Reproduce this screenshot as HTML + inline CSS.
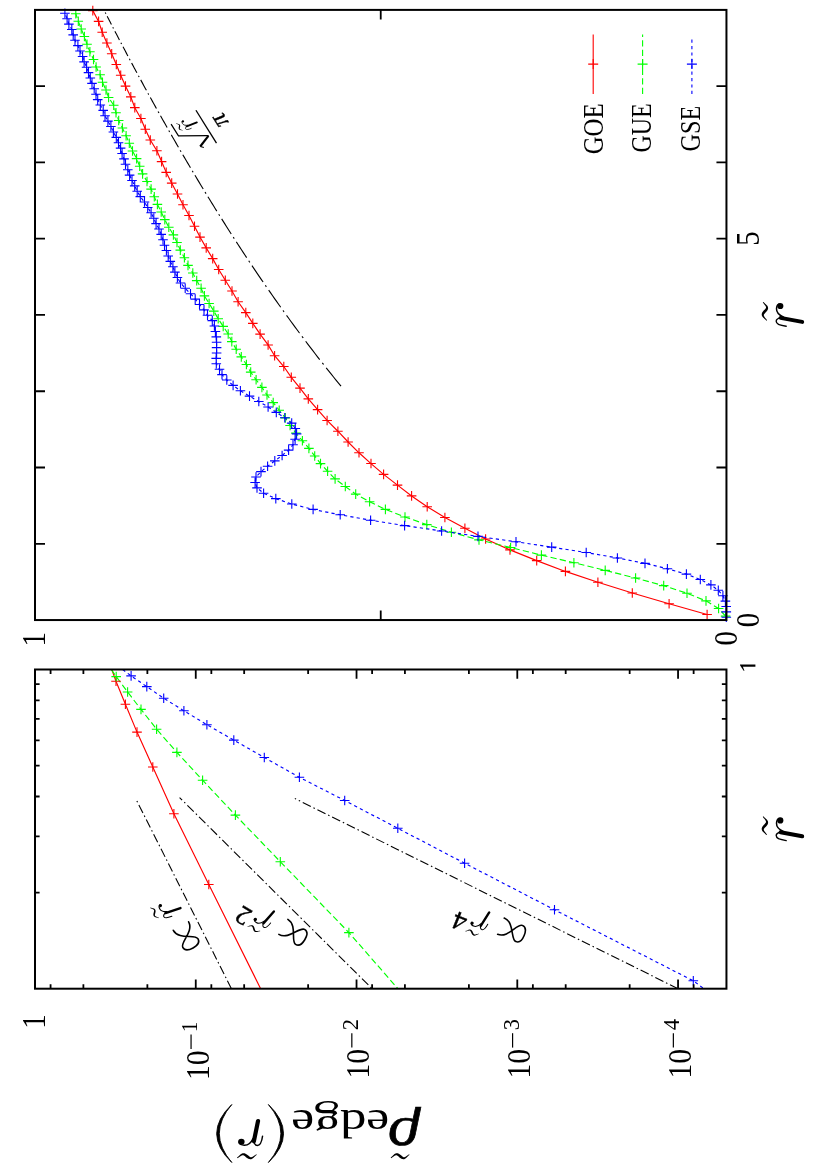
<!DOCTYPE html>
<html><head><meta charset="utf-8"><title>chart</title>
<style>html,body{margin:0;padding:0;background:#fff;overflow:hidden}svg{display:block;position:absolute;left:0;top:0;will-change:transform}</style></head>
<body><svg width="827" height="1170" viewBox="0 0 827 1170">
<rect x="0" y="0" width="827" height="1170" fill="#fff"/>
<path d="M105.19 12.38L105.31 12.61L105.43 12.84L105.54 13.07L105.66 13.29L105.78 13.52L105.87 13.71M107.22 16.34L107.93 17.72L108.63 19.09L109.34 20.46L110.05 21.84L110.75 23.21L111.44 24.54M112.82 27.21L112.94 27.44L113.06 27.67L113.18 27.9L113.3 28.13L113.41 28.36L113.51 28.55M114.9 31.22L115.65 32.67L116.4 34.12L117.16 35.56L117.92 37.01L118.67 38.46L119.43 39.91L119.47 39.99M120.89 42.7L121.01 42.92L121.13 43.15L121.25 43.38L121.37 43.61L121.49 43.84L121.61 44.07M123.03 46.78L123.83 48.3L124.64 49.83L125.44 51.35L126.25 52.88L127.06 54.4L127.87 55.93L127.95 56.08M129.43 58.86L129.55 59.09L129.67 59.32L129.79 59.55L129.91 59.78L130.04 60.01L130.16 60.24M131.62 62.98L132.5 64.62L133.38 66.26L134.25 67.9L135.13 69.54L136.02 71.18L136.9 72.82L136.92 72.86M138.44 75.68L138.56 75.91L138.69 76.14L138.81 76.37L138.94 76.6L139.06 76.83L139.18 77.05M140.71 79.88L141.66 81.63L142.62 83.38L143.57 85.14L144.53 86.89L145.49 88.65L146.42 90.36M147.99 93.22L148.12 93.45L148.24 93.68L148.37 93.91L148.5 94.14L148.62 94.37L148.75 94.6L148.77 94.63M150.32 97.46L151.33 99.29L152.34 101.12L153.36 102.95L154.37 104.78L155.39 106.61L156.41 108.44L156.49 108.59M158.09 111.45L158.22 111.68L158.34 111.91L158.47 112.14L158.6 112.37L158.73 112.6L158.86 112.82L158.9 112.9M160.52 115.8L161.61 117.74L162.71 119.69L163.81 121.63L164.9 123.58L166.01 125.52L167.11 127.47L167.15 127.54M168.82 130.48L168.95 130.71L169.08 130.94L169.21 131.17L169.34 131.4L169.47 131.62L169.6 131.85L169.65 131.93M171.33 134.87L172.5 136.93L173.69 138.98L174.87 141.04L176.06 143.1L177.25 145.16L178.44 147.22L178.46 147.26M180.19 150.23L180.32 150.46L180.45 150.69L180.59 150.92L180.72 151.15L180.85 151.38L180.99 151.61L181.05 151.72M182.79 154.7L184.06 156.87L185.33 159.04L186.61 161.22L187.89 163.39L189.17 165.56L190.46 167.74M192.25 170.75L192.38 170.98L192.52 171.21L192.66 171.44L192.79 171.67L192.93 171.89L193.06 172.12L193.16 172.28M194.95 175.29L196.32 177.58L197.69 179.86L199.07 182.15L200.45 184.44L201.83 186.73L203.22 189.02M205.07 192.07L205.24 192.33L205.4 192.6L205.56 192.87L205.73 193.14L205.89 193.4L206.03 193.63M207.89 196.68L209.37 199.08L210.84 201.49L212.33 203.89L213.81 206.29L215.3 208.69L216.8 211.1M218.73 214.19L218.89 214.45L219.06 214.72L219.23 214.99L219.39 215.25L219.56 215.52L219.7 215.75M221.67 218.88L223.25 221.39L224.84 223.91L226.44 226.43L228.04 228.94L229.65 231.46L231.24 233.94M233.27 237.1L233.44 237.37L233.61 237.64L233.79 237.91L233.96 238.17L234.13 238.44L234.28 238.67M236.32 241.83L238.03 244.46L239.75 247.1L241.47 249.73L243.19 252.36L244.92 254.99L246.64 257.58M248.76 260.79L248.94 261.05L249.12 261.32L249.29 261.59L249.47 261.85L249.65 262.12L249.83 262.39M251.97 265.59L253.81 268.34L255.66 271.08L257.51 273.83L259.38 276.57L261.25 279.32L263.1 282.03M265.33 285.27L265.51 285.54L265.69 285.8L265.88 286.07L266.06 286.34L266.25 286.6L266.43 286.87M268.67 290.11L270.63 292.93L272.61 295.76L274.58 298.58L276.57 301.4L278.57 304.22L280.57 307.04L280.68 307.2M283 310.44L283.19 310.7L283.38 310.97L283.57 311.24L283.76 311.5L283.95 311.77L284.15 312.04L284.17 312.08M286.53 315.36L288.66 318.29L290.79 321.23L292.94 324.17L295.1 327.1L297.26 330.04L299.44 332.97L299.5 333.05M301.97 336.37L302.17 336.64L302.37 336.9L302.57 337.17L302.77 337.44L302.97 337.7L303.17 337.97L303.2 338.01M305.67 341.29L307.98 344.34L310.3 347.39L312.64 350.44L314.98 353.49L317.34 356.54L319.69 359.55M322.29 362.87L322.5 363.14L322.71 363.41L322.92 363.67L323.13 363.94L323.34 364.21L323.55 364.47L323.58 364.51M326.2 367.83L328.63 370.88L331.07 373.93L333.53 376.98L336.01 380.03L338.49 383.08L341 386.13L341.03 386.17" fill="none" stroke="#000" stroke-width="1.1"/>
<polyline points="707.1,614.56 669.1,603.77 632.3,592.99 597.9,582.2 565.4,571.42 536.7,560.63 510,549.85 485.6,539.06 464.9,528.28 444.9,517.49 427.2,506.71 411.6,495.92 397.5,485.14 383.6,474.36 371,463.57 359,452.79 348.1,442 337.9,431.22 327.1,420.43 317.6,409.65 308.3,398.86 300,388.08 291.3,377.29 283.8,366.51 274.6,355.72 268.1,344.94 260.1,334.15 252.8,323.37 245.8,312.58 238.1,301.8 232,291.01 225.3,280.23 218.7,269.44 212.7,258.66 206.2,247.87 200,237.09 194.5,226.31 189,215.52 183,204.74 177.5,193.95 171.7,183.17 166.2,172.38 161.6,161.6 156.9,150.81 150.3,140.03 145.3,129.24 140.9,118.46 134.8,107.67 130.8,96.89 125.5,86.1 120.7,75.32 116.3,64.53 111.7,53.75 106.9,42.96 102.2,32.18 98.6,21.39 92.8,10.61" fill="none" stroke="#ff0000" stroke-width="1.15"/>
<path d="M702.3 614.56h9.6M707.1 609.76v9.6M664.3 603.77h9.6M669.1 598.97v9.6M627.5 592.99h9.6M632.3 588.19v9.6M593.1 582.2h9.6M597.9 577.4v9.6M560.6 571.42h9.6M565.4 566.62v9.6M531.9 560.63h9.6M536.7 555.83v9.6M505.2 549.85h9.6M510 545.05v9.6M480.8 539.06h9.6M485.6 534.26v9.6M460.1 528.28h9.6M464.9 523.48v9.6M440.1 517.49h9.6M444.9 512.69v9.6M422.4 506.71h9.6M427.2 501.91v9.6M406.8 495.92h9.6M411.6 491.12v9.6M392.7 485.14h9.6M397.5 480.34v9.6M378.8 474.36h9.6M383.6 469.56v9.6M366.2 463.57h9.6M371 458.77v9.6M354.2 452.79h9.6M359 447.99v9.6M343.3 442h9.6M348.1 437.2v9.6M333.1 431.22h9.6M337.9 426.42v9.6M322.3 420.43h9.6M327.1 415.63v9.6M312.8 409.65h9.6M317.6 404.85v9.6M303.5 398.86h9.6M308.3 394.06v9.6M295.2 388.08h9.6M300 383.28v9.6M286.5 377.29h9.6M291.3 372.49v9.6M279 366.51h9.6M283.8 361.71v9.6M269.8 355.72h9.6M274.6 350.92v9.6M263.3 344.94h9.6M268.1 340.14v9.6M255.3 334.15h9.6M260.1 329.35v9.6M248 323.37h9.6M252.8 318.57v9.6M241 312.58h9.6M245.8 307.78v9.6M233.3 301.8h9.6M238.1 297v9.6M227.2 291.01h9.6M232 286.21v9.6M220.5 280.23h9.6M225.3 275.43v9.6M213.9 269.44h9.6M218.7 264.64v9.6M207.9 258.66h9.6M212.7 253.86v9.6M201.4 247.87h9.6M206.2 243.07v9.6M195.2 237.09h9.6M200 232.29v9.6M189.7 226.31h9.6M194.5 221.51v9.6M184.2 215.52h9.6M189 210.72v9.6M178.2 204.74h9.6M183 199.94v9.6M172.7 193.95h9.6M177.5 189.15v9.6M166.9 183.17h9.6M171.7 178.37v9.6M161.4 172.38h9.6M166.2 167.58v9.6M156.8 161.6h9.6M161.6 156.8v9.6M152.1 150.81h9.6M156.9 146.01v9.6M145.5 140.03h9.6M150.3 135.23v9.6M140.5 129.24h9.6M145.3 124.44v9.6M136.1 118.46h9.6M140.9 113.66v9.6M130 107.67h9.6M134.8 102.87v9.6M126 96.89h9.6M130.8 92.09v9.6M120.7 86.1h9.6M125.5 81.3v9.6M115.9 75.32h9.6M120.7 70.52v9.6M111.5 64.53h9.6M116.3 59.73v9.6M106.9 53.75h9.6M111.7 48.95v9.6M102.1 42.96h9.6M106.9 38.16v9.6M97.4 32.18h9.6M102.2 27.38v9.6M93.8 21.39h9.6M98.6 16.59v9.6M88 10.61h9.6M92.8 5.81v9.6" stroke="#ff0000" stroke-width="1.1" fill="none"/>
<polyline points="725.6,616.14 718.6,608.51 706,600.88 687,593.26 663.7,585.63 635.6,578.01 605.2,570.38 573.9,562.75 541.4,555.13 510.6,547.5 479,539.88 451.4,532.25 426.8,524.62 405,517 385.4,509.37 369.6,501.75 355.7,494.12 345.3,486.5 335.1,478.87 327.6,471.24 320.5,463.62 314.7,455.99 308.9,448.37 302.4,440.74 295.9,433.11 290.1,425.49 285.3,417.86 279.2,410.24 273.2,402.61 267,394.98 261.9,387.36 256.1,379.73 250.7,372.11 246.4,364.48 241.3,356.85 236.2,349.23 231.8,341.6 228.2,333.98 223.2,326.35 218.2,318.72 213.8,311.1 209.1,303.47 204.4,295.85 201.1,288.22 196.7,280.59 192.8,272.97 188,265.34 184.4,257.72 180.3,250.09 177,242.46 173.4,234.84 168.8,227.21 164.8,219.59 161.2,211.96 157.4,204.33 154.3,196.71 151.1,189.08 147,181.46 142.6,173.83 139.7,166.2 136.6,158.58 132.5,150.95 129.3,143.32 126.1,135.7 122.4,128.07 118.7,120.45 116,112.82 113.7,105.2 108.6,97.57 106,89.94 102.5,82.32 100.1,74.69 96.1,67.07 93.5,59.44 89.9,51.81 87,44.19 84.4,36.56 81.2,28.94 78.3,21.31 75.8,13.68" fill="none" stroke="#00ff00" stroke-width="1.15" stroke-dasharray="6.3 3.2"/>
<path d="M720.8 616.14h9.6M725.6 611.34v9.6M713.8 608.51h9.6M718.6 603.71v9.6M701.2 600.88h9.6M706 596.09v9.6M682.2 593.26h9.6M687 588.46v9.6M658.9 585.63h9.6M663.7 580.83v9.6M630.8 578.01h9.6M635.6 573.21v9.6M600.4 570.38h9.6M605.2 565.58v9.6M569.1 562.75h9.6M573.9 557.96v9.6M536.6 555.13h9.6M541.4 550.33v9.6M505.8 547.5h9.6M510.6 542.7v9.6M474.2 539.88h9.6M479 535.08v9.6M446.6 532.25h9.6M451.4 527.45v9.6M422 524.62h9.6M426.8 519.83v9.6M400.2 517h9.6M405 512.2v9.6M380.6 509.37h9.6M385.4 504.57v9.6M364.8 501.75h9.6M369.6 496.95v9.6M350.9 494.12h9.6M355.7 489.32v9.6M340.5 486.5h9.6M345.3 481.69v9.6M330.3 478.87h9.6M335.1 474.07v9.6M322.8 471.24h9.6M327.6 466.44v9.6M315.7 463.62h9.6M320.5 458.82v9.6M309.9 455.99h9.6M314.7 451.19v9.6M304.1 448.37h9.6M308.9 443.56v9.6M297.6 440.74h9.6M302.4 435.94v9.6M291.1 433.11h9.6M295.9 428.31v9.6M285.3 425.49h9.6M290.1 420.69v9.6M280.5 417.86h9.6M285.3 413.06v9.6M274.4 410.24h9.6M279.2 405.44v9.6M268.4 402.61h9.6M273.2 397.81v9.6M262.2 394.98h9.6M267 390.18v9.6M257.1 387.36h9.6M261.9 382.56v9.6M251.3 379.73h9.6M256.1 374.93v9.6M245.9 372.11h9.6M250.7 367.31v9.6M241.6 364.48h9.6M246.4 359.68v9.6M236.5 356.85h9.6M241.3 352.05v9.6M231.4 349.23h9.6M236.2 344.43v9.6M227 341.6h9.6M231.8 336.8v9.6M223.4 333.98h9.6M228.2 329.18v9.6M218.4 326.35h9.6M223.2 321.55v9.6M213.4 318.72h9.6M218.2 313.92v9.6M209 311.1h9.6M213.8 306.3v9.6M204.3 303.47h9.6M209.1 298.67v9.6M199.6 295.85h9.6M204.4 291.05v9.6M196.3 288.22h9.6M201.1 283.42v9.6M191.9 280.59h9.6M196.7 275.79v9.6M188 272.97h9.6M192.8 268.17v9.6M183.2 265.34h9.6M188 260.54v9.6M179.6 257.72h9.6M184.4 252.92v9.6M175.5 250.09h9.6M180.3 245.29v9.6M172.2 242.46h9.6M177 237.66v9.6M168.6 234.84h9.6M173.4 230.04v9.6M164 227.21h9.6M168.8 222.41v9.6M160 219.59h9.6M164.8 214.79v9.6M156.4 211.96h9.6M161.2 207.16v9.6M152.6 204.33h9.6M157.4 199.53v9.6M149.5 196.71h9.6M154.3 191.91v9.6M146.3 189.08h9.6M151.1 184.28v9.6M142.2 181.46h9.6M147 176.66v9.6M137.8 173.83h9.6M142.6 169.03v9.6M134.9 166.2h9.6M139.7 161.4v9.6M131.8 158.58h9.6M136.6 153.78v9.6M127.7 150.95h9.6M132.5 146.15v9.6M124.5 143.32h9.6M129.3 138.52v9.6M121.3 135.7h9.6M126.1 130.9v9.6M117.6 128.07h9.6M122.4 123.27v9.6M113.9 120.45h9.6M118.7 115.65v9.6M111.2 112.82h9.6M116 108.02v9.6M108.9 105.2h9.6M113.7 100.4v9.6M103.8 97.57h9.6M108.6 92.77v9.6M101.2 89.94h9.6M106 85.14v9.6M97.7 82.32h9.6M102.5 77.52v9.6M95.3 74.69h9.6M100.1 69.89v9.6M91.3 67.07h9.6M96.1 62.27v9.6M88.7 59.44h9.6M93.5 54.64v9.6M85.1 51.81h9.6M89.9 47.01v9.6M82.2 44.19h9.6M87 39.39v9.6M79.6 36.56h9.6M84.4 31.76v9.6M76.4 28.94h9.6M81.2 24.14v9.6M73.5 21.31h9.6M78.3 16.51v9.6M71 13.68h9.6M75.8 8.88v9.6" stroke="#00ff00" stroke-width="1.1" fill="none"/>
<polyline points="726.3,617.25 726.3,611.86 726.2,606.47 725.4,601.08 722.9,595.68 718.3,590.29 710.9,584.9 700.3,579.51 686.4,574.11 667.4,568.72 645,563.33 617.4,557.94 586.2,552.55 551.7,547.15 516,541.76 478,536.37 441.6,530.98 404.6,525.58 370.6,520.19 340.2,514.8 313.1,509.41 291.8,504.01 275.8,498.62 263.6,493.23 257,487.84 255.1,482.44 256,477.05 261,471.66 267.6,466.27 274.8,460.87 282.1,455.48 288.6,450.09 293,444.7 295.1,439.3 296.6,433.91 295.3,428.52 291.7,423.13 284.8,417.74 276.3,412.34 268.1,406.95 258.8,401.56 249.5,396.17 240.4,390.77 233.1,385.38 226.8,379.99 222,374.6 219.5,369.2 216.3,363.81 216.2,358.42 216.6,353.03 216.6,347.63 216.6,342.24 216.3,336.85 215.4,331.46 214.4,326.06 212.3,320.67 207.5,315.28 204,309.89 199.5,304.49 195.2,299.1 190.5,293.71 185.2,288.32 180.5,282.93 177.4,277.53 174.9,272.14 172.9,266.75 170.3,261.36 168.2,255.96 166.4,250.57 164.5,245.18 163,239.79 161.2,234.39 159,229 156.1,223.61 153.8,218.22 151.1,212.82 147.7,207.43 144.5,202.04 140.3,196.65 137.2,191.25 134.7,185.86 132,180.47 129.6,175.08 127.8,169.68 125.5,164.29 124,158.9 122.1,153.51 120.6,148.12 118.5,142.72 116.3,137.33 113.4,131.94 110.9,126.55 107.9,121.15 105,115.76 103.2,110.37 100.3,104.98 97.7,99.58 96,94.19 94.2,88.8 92,83.41 90.3,78.01 88.5,72.62 86.6,67.23 84.1,61.84 82.6,56.44 80,51.05 77.9,45.66 75,40.27 73.2,34.88 71.8,29.48 68.9,24.09 67.1,18.7 64.9,13.31" fill="none" stroke="#0000ff" stroke-width="1.15" stroke-dasharray="3.2 3.2"/>
<path d="M721.5 617.25h9.6M726.3 612.45v9.6M721.5 611.86h9.6M726.3 607.06v9.6M721.4 606.47h9.6M726.2 601.67v9.6M720.6 601.08h9.6M725.4 596.28v9.6M718.1 595.68h9.6M722.9 590.88v9.6M713.5 590.29h9.6M718.3 585.49v9.6M706.1 584.9h9.6M710.9 580.1v9.6M695.5 579.51h9.6M700.3 574.71v9.6M681.6 574.11h9.6M686.4 569.31v9.6M662.6 568.72h9.6M667.4 563.92v9.6M640.2 563.33h9.6M645 558.53v9.6M612.6 557.94h9.6M617.4 553.14v9.6M581.4 552.55h9.6M586.2 547.75v9.6M546.9 547.15h9.6M551.7 542.35v9.6M511.2 541.76h9.6M516 536.96v9.6M473.2 536.37h9.6M478 531.57v9.6M436.8 530.98h9.6M441.6 526.18v9.6M399.8 525.58h9.6M404.6 520.78v9.6M365.8 520.19h9.6M370.6 515.39v9.6M335.4 514.8h9.6M340.2 510v9.6M308.3 509.41h9.6M313.1 504.61v9.6M287 504.01h9.6M291.8 499.21v9.6M271 498.62h9.6M275.8 493.82v9.6M258.8 493.23h9.6M263.6 488.43v9.6M252.2 487.84h9.6M257 483.04v9.6M250.3 482.44h9.6M255.1 477.64v9.6M251.2 477.05h9.6M256 472.25v9.6M256.2 471.66h9.6M261 466.86v9.6M262.8 466.27h9.6M267.6 461.47v9.6M270 460.87h9.6M274.8 456.07v9.6M277.3 455.48h9.6M282.1 450.68v9.6M283.8 450.09h9.6M288.6 445.29v9.6M288.2 444.7h9.6M293 439.9v9.6M290.3 439.3h9.6M295.1 434.5v9.6M291.8 433.91h9.6M296.6 429.11v9.6M290.5 428.52h9.6M295.3 423.72v9.6M286.9 423.13h9.6M291.7 418.33v9.6M280 417.74h9.6M284.8 412.94v9.6M271.5 412.34h9.6M276.3 407.54v9.6M263.3 406.95h9.6M268.1 402.15v9.6M254 401.56h9.6M258.8 396.76v9.6M244.7 396.17h9.6M249.5 391.37v9.6M235.6 390.77h9.6M240.4 385.97v9.6M228.3 385.38h9.6M233.1 380.58v9.6M222 379.99h9.6M226.8 375.19v9.6M217.2 374.6h9.6M222 369.8v9.6M214.7 369.2h9.6M219.5 364.4v9.6M211.5 363.81h9.6M216.3 359.01v9.6M211.4 358.42h9.6M216.2 353.62v9.6M211.8 353.03h9.6M216.6 348.23v9.6M211.8 347.63h9.6M216.6 342.83v9.6M211.8 342.24h9.6M216.6 337.44v9.6M211.5 336.85h9.6M216.3 332.05v9.6M210.6 331.46h9.6M215.4 326.66v9.6M209.6 326.06h9.6M214.4 321.26v9.6M207.5 320.67h9.6M212.3 315.87v9.6M202.7 315.28h9.6M207.5 310.48v9.6M199.2 309.89h9.6M204 305.09v9.6M194.7 304.49h9.6M199.5 299.69v9.6M190.4 299.1h9.6M195.2 294.3v9.6M185.7 293.71h9.6M190.5 288.91v9.6M180.4 288.32h9.6M185.2 283.52v9.6M175.7 282.93h9.6M180.5 278.13v9.6M172.6 277.53h9.6M177.4 272.73v9.6M170.1 272.14h9.6M174.9 267.34v9.6M168.1 266.75h9.6M172.9 261.95v9.6M165.5 261.36h9.6M170.3 256.56v9.6M163.4 255.96h9.6M168.2 251.16v9.6M161.6 250.57h9.6M166.4 245.77v9.6M159.7 245.18h9.6M164.5 240.38v9.6M158.2 239.79h9.6M163 234.99v9.6M156.4 234.39h9.6M161.2 229.59v9.6M154.2 229h9.6M159 224.2v9.6M151.3 223.61h9.6M156.1 218.81v9.6M149 218.22h9.6M153.8 213.42v9.6M146.3 212.82h9.6M151.1 208.02v9.6M142.9 207.43h9.6M147.7 202.63v9.6M139.7 202.04h9.6M144.5 197.24v9.6M135.5 196.65h9.6M140.3 191.85v9.6M132.4 191.25h9.6M137.2 186.45v9.6M129.9 185.86h9.6M134.7 181.06v9.6M127.2 180.47h9.6M132 175.67v9.6M124.8 175.08h9.6M129.6 170.28v9.6M123 169.68h9.6M127.8 164.88v9.6M120.7 164.29h9.6M125.5 159.49v9.6M119.2 158.9h9.6M124 154.1v9.6M117.3 153.51h9.6M122.1 148.71v9.6M115.8 148.12h9.6M120.6 143.32v9.6M113.7 142.72h9.6M118.5 137.92v9.6M111.5 137.33h9.6M116.3 132.53v9.6M108.6 131.94h9.6M113.4 127.14v9.6M106.1 126.55h9.6M110.9 121.75v9.6M103.1 121.15h9.6M107.9 116.35v9.6M100.2 115.76h9.6M105 110.96v9.6M98.4 110.37h9.6M103.2 105.57v9.6M95.5 104.98h9.6M100.3 100.18v9.6M92.9 99.58h9.6M97.7 94.78v9.6M91.2 94.19h9.6M96 89.39v9.6M89.4 88.8h9.6M94.2 84v9.6M87.2 83.41h9.6M92 78.61v9.6M85.5 78.01h9.6M90.3 73.21v9.6M83.7 72.62h9.6M88.5 67.82v9.6M81.8 67.23h9.6M86.6 62.43v9.6M79.3 61.84h9.6M84.1 57.04v9.6M77.8 56.44h9.6M82.6 51.64v9.6M75.2 51.05h9.6M80 46.25v9.6M73.1 45.66h9.6M77.9 40.86v9.6M70.2 40.27h9.6M75 35.47v9.6M68.4 34.88h9.6M73.2 30.08v9.6M67 29.48h9.6M71.8 24.68v9.6M64.1 24.09h9.6M68.9 19.29v9.6M62.3 18.7h9.6M67.1 13.9v9.6M60.1 13.31h9.6M64.9 8.51v9.6" stroke="#0000ff" stroke-width="1.1" fill="none"/>
<rect x="35.0" y="9.9" width="691.45" height="610.15" fill="none" stroke="#000" stroke-width="2.0"/>
<path d="M35 543.78h10M726.45 543.78h-10M35 467.51h10M726.45 467.51h-10M35 391.24h10M726.45 391.24h-10M35 314.97h10M726.45 314.97h-10M35 238.71h10M726.45 238.71h-10M35 162.44h10M726.45 162.44h-10M35 86.17h10M726.45 86.17h-10M380.73 9.9v9.5M380.73 620.05v-9.5" stroke="#000" stroke-width="1.8" fill="none"/>
<clipPath id="c2"><rect x="35.0" y="669.5" width="691.45" height="319.20000000000005"/></clipPath>
<g clip-path="url(#c2)">
<line x1="231.43" y1="988.7" x2="136.77" y2="800.74" stroke="#000" stroke-width="1.1" stroke-dasharray="9 2.95 1.5 2.95" stroke-dashoffset="0"/>
<line x1="372.11" y1="988.7" x2="179.58" y2="797.57" stroke="#000" stroke-width="1.1" stroke-dasharray="9 2.95 1.5 2.95" stroke-dashoffset="11.1"/>
<line x1="678.06" y1="988.7" x2="294.83" y2="798.48" stroke="#000" stroke-width="1.1" stroke-dasharray="9 2.95 1.5 2.95" stroke-dashoffset="0"/>
<polyline points="284.6,1036.9 208.8,884.5 173.9,813.7 152.8,767 137,732.1 125.4,704.3 116,681.2 108.8,661.3" fill="none" stroke="#ff0000" stroke-width="1.15"/>
<polyline points="482,1084.9 348.9,932.6 280.3,861.7 235.4,815.1 202.6,780.2 176.9,752.4 156.6,729.2 141,709.4 127.6,692 116.2,676.6 106.7,662.7" fill="none" stroke="#00ff00" stroke-width="1.15" stroke-dasharray="6.3 3.2"/>
<polyline points="898,1133 693.3,980.8 554.5,909.8 464.6,863.2 397.8,828.3 344.7,800.5 299.4,777.3 264.3,757.5 233.8,740.1 206.9,724.7 183.9,710.8 163.7,698.2 146.8,686.6 131.1,675.9 118.1,666" fill="none" stroke="#0000ff" stroke-width="1.15" stroke-dasharray="3.2 3.2"/>
</g>
<path d="M204 884.5h9.6M208.8 879.7v9.6M169.1 813.7h9.6M173.9 808.9v9.6M148 767h9.6M152.8 762.2v9.6M132.2 732.1h9.6M137 727.3v9.6M120.6 704.3h9.6M125.4 699.5v9.6M111.2 681.2h9.6M116 676.4v9.6" stroke="#ff0000" stroke-width="1.1" fill="none"/>
<path d="M344.1 932.6h9.6M348.9 927.8v9.6M275.5 861.7h9.6M280.3 856.9v9.6M230.6 815.1h9.6M235.4 810.3v9.6M197.8 780.2h9.6M202.6 775.4v9.6M172.1 752.4h9.6M176.9 747.6v9.6M151.8 729.2h9.6M156.6 724.4v9.6M136.2 709.4h9.6M141 704.6v9.6M122.8 692h9.6M127.6 687.2v9.6M111.4 676.6h9.6M116.2 671.8v9.6" stroke="#00ff00" stroke-width="1.1" fill="none"/>
<path d="M688.5 980.8h9.6M693.3 976v9.6M549.7 909.8h9.6M554.5 905v9.6M459.8 863.2h9.6M464.6 858.4v9.6M393 828.3h9.6M397.8 823.5v9.6M339.9 800.5h9.6M344.7 795.7v9.6M294.6 777.3h9.6M299.4 772.5v9.6M259.5 757.5h9.6M264.3 752.7v9.6M229 740.1h9.6M233.8 735.3v9.6M202.1 724.7h9.6M206.9 719.9v9.6M179.1 710.8h9.6M183.9 706v9.6M158.9 698.2h9.6M163.7 693.4v9.6M142 686.6h9.6M146.8 681.8v9.6M126.3 675.9h9.6M131.1 671.1v9.6" stroke="#0000ff" stroke-width="1.1" fill="none"/>
<rect x="35.0" y="669.5" width="691.45" height="319.20000000000005" fill="none" stroke="#000" stroke-width="2.0"/>
<path d="M35 892.61h4.6M726.45 892.61h-4.6M35 836.4h4.6M726.45 836.4h-4.6M35 796.52h4.6M726.45 796.52h-4.6M35 765.59h4.6M726.45 765.59h-4.6M35 740.31h4.6M726.45 740.31h-4.6M35 718.94h4.6M726.45 718.94h-4.6M35 700.43h4.6M726.45 700.43h-4.6M35 684.11h4.6M726.45 684.11h-4.6M50.58 669.5v4.5M50.58 988.7v-4.5M83.39 669.5v4.5M83.39 988.7v-4.5M147.37 669.5v4.5M147.37 988.7v-4.5M195.76 669.5v9.3M195.76 988.7v-9.3M211.34 669.5v4.5M211.34 988.7v-4.5M244.16 669.5v4.5M244.16 988.7v-4.5M308.13 669.5v4.5M308.13 988.7v-4.5M356.53 669.5v9.3M356.53 988.7v-9.3M372.11 669.5v4.5M372.11 988.7v-4.5M404.92 669.5v4.5M404.92 988.7v-4.5M468.9 669.5v4.5M468.9 988.7v-4.5M517.29 669.5v9.3M517.29 988.7v-9.3M532.87 669.5v4.5M532.87 988.7v-4.5M565.69 669.5v4.5M565.69 988.7v-4.5M629.66 669.5v4.5M629.66 988.7v-4.5M678.06 669.5v9.3M678.06 988.7v-9.3M693.63 669.5v4.5M693.63 988.7v-4.5" stroke="#000" stroke-width="1.8" fill="none"/>
<g font-family="'Liberation Serif', serif" fill="#000">
<text transform="translate(759.3 620) rotate(-90) scale(0.87 1)" font-size="33" text-anchor="middle">0</text>
<text transform="translate(759.3 238.7) rotate(-90) scale(0.87 1)" font-size="33" text-anchor="middle">5</text>
<text transform="translate(45 639.3) rotate(-90) scale(0.87 1)" font-size="33" text-anchor="middle">1</text>
<text transform="translate(736.8 638.4) rotate(-90) scale(0.87 1)" font-size="33" text-anchor="middle">0</text>
<text transform="translate(45 1021.5) rotate(-90) scale(0.87 1)" font-size="33" text-anchor="middle">1</text>
<text transform="translate(208.66 1080) rotate(-90) scale(0.90 1)" font-size="33" text-anchor="start">10</text>
<path d="M191.06 1049V1034.6" stroke="#000" stroke-width="1.2"/>
<text transform="translate(197.06 1026.9) rotate(-90) scale(0.92 1)" font-size="22.5" text-anchor="middle">1</text>
<text transform="translate(369.43 1078.6) rotate(-90) scale(0.90 1)" font-size="33" text-anchor="start">10</text>
<path d="M351.83 1047.6V1033.2" stroke="#000" stroke-width="1.2"/>
<text transform="translate(357.83 1024.6) rotate(-90) scale(1.0 1)" font-size="22.5" text-anchor="middle">2</text>
<text transform="translate(530.19 1078.6) rotate(-90) scale(0.90 1)" font-size="33" text-anchor="start">10</text>
<path d="M512.59 1047.6V1033.2" stroke="#000" stroke-width="1.2"/>
<text transform="translate(518.59 1024.6) rotate(-90) scale(1.0 1)" font-size="22.5" text-anchor="middle">3</text>
<text transform="translate(690.96 1078.6) rotate(-90) scale(0.90 1)" font-size="33" text-anchor="start">10</text>
<path d="M673.36 1047.6V1033.2" stroke="#000" stroke-width="1.2"/>
<text transform="translate(679.36 1024.6) rotate(-90) scale(1.0 1)" font-size="22.5" text-anchor="middle">4</text>
<clipPath id="c1"><rect x="700" y="640" width="55.4" height="60"/></clipPath>
<g clip-path="url(#c1)"><text transform="translate(762 666.2) rotate(-90) scale(0.87 1)" font-size="33" text-anchor="middle">1</text></g>
<text transform="translate(602.6 103.4) rotate(-90) scale(0.855 1)" font-size="29" text-anchor="end">GOE</text>
<text transform="translate(651.4 103.4) rotate(-90) scale(0.825 1)" font-size="29" text-anchor="end">GUE</text>
<text transform="translate(700.4 105.8) rotate(-90) scale(0.835 1)" font-size="29" text-anchor="end">GSE</text>
</g>
<path d="M593.2 34.5V94" stroke="#ff0000" stroke-width="1.1"/>
<path d="M642.6 94V34.5" stroke="#00ff00" stroke-width="1.1" stroke-dasharray="6.3 3.2"/>
<path d="M691.9 94V39" stroke="#0000ff" stroke-width="1.1" stroke-dasharray="3.2 3.2"/>
<path d="M588.2 64.1h10M593.2 59.1v10" stroke="#ff0000" stroke-width="1.1" fill="none"/>
<path d="M637.6 64.1h10M642.6 59.1v10" stroke="#00ff00" stroke-width="1.1" fill="none"/>
<path d="M686.9 64.1h10M691.9 59.1v10" stroke="#0000ff" stroke-width="1.1" fill="none"/>
<g transform="translate(804.2 326.8) rotate(-90)"><path d="M8.9 -23.6L4.9 -2" stroke="#000" stroke-width="4" stroke-linecap="round" fill="none"/><path d="M0.6 -18C1.2 -23 3 -28 5.6 -28C7.6 -28 8.6 -26 9.2 -23.5" stroke="#000" stroke-width="1.4" stroke-linecap="round" fill="none"/><path d="M9.6 -20.5C11.5 -25 14.5 -27.8 18 -27.7C20.5 -27.6 22.3 -27 22.8 -25" stroke="#000" stroke-width="1.5" stroke-linecap="round" fill="none"/><circle cx="20.8" cy="-23.9" r="3.1" fill="#000"/><path d="M6.52 -37.18L7.23 -37.64L7.94 -38.18L8.65 -38.76L9.35 -39.32L10.03 -39.81L10.68 -40.17L11.26 -40.37L11.72 -40.41L12.1 -40.33L12.46 -40.15L12.88 -39.87L13.38 -39.45L13.94 -38.92L14.57 -38.32L15.26 -37.69L16.01 -37.1L16.82 -36.59L17.72 -36.23L18.67 -36.09L19.61 -36.22L20.46 -36.57L21.19 -37.09L21.86 -37.7L22.49 -38.37L23.1 -39.04L23.71 -39.68L24.32 -40.22L24.92 -40.63L24.48 -41.42L23.77 -40.96L23.06 -40.42L22.35 -39.84L21.65 -39.28L20.97 -38.79L20.32 -38.43L19.74 -38.23L19.28 -38.19L18.9 -38.27L18.54 -38.45L18.12 -38.73L17.62 -39.15L17.06 -39.68L16.43 -40.28L15.74 -40.91L14.99 -41.5L14.18 -42.01L13.28 -42.37L12.33 -42.51L11.39 -42.38L10.54 -42.03L9.81 -41.51L9.14 -40.9L8.51 -40.23L7.9 -39.56L7.29 -38.92L6.68 -38.38L6.08 -37.97Z" fill="#000"/></g>
<g transform="translate(804.2 841.2) rotate(-90)"><path d="M8.9 -23.6L4.9 -2" stroke="#000" stroke-width="4" stroke-linecap="round" fill="none"/><path d="M0.6 -18C1.2 -23 3 -28 5.6 -28C7.6 -28 8.6 -26 9.2 -23.5" stroke="#000" stroke-width="1.4" stroke-linecap="round" fill="none"/><path d="M9.6 -20.5C11.5 -25 14.5 -27.8 18 -27.7C20.5 -27.6 22.3 -27 22.8 -25" stroke="#000" stroke-width="1.5" stroke-linecap="round" fill="none"/><circle cx="20.8" cy="-23.9" r="3.1" fill="#000"/><path d="M6.52 -37.18L7.23 -37.64L7.94 -38.18L8.65 -38.76L9.35 -39.32L10.03 -39.81L10.68 -40.17L11.26 -40.37L11.72 -40.41L12.1 -40.33L12.46 -40.15L12.88 -39.87L13.38 -39.45L13.94 -38.92L14.57 -38.32L15.26 -37.69L16.01 -37.1L16.82 -36.59L17.72 -36.23L18.67 -36.09L19.61 -36.22L20.46 -36.57L21.19 -37.09L21.86 -37.7L22.49 -38.37L23.1 -39.04L23.71 -39.68L24.32 -40.22L24.92 -40.63L24.48 -41.42L23.77 -40.96L23.06 -40.42L22.35 -39.84L21.65 -39.28L20.97 -38.79L20.32 -38.43L19.74 -38.23L19.28 -38.19L18.9 -38.27L18.54 -38.45L18.12 -38.73L17.62 -39.15L17.06 -39.68L16.43 -40.28L15.74 -40.91L14.99 -41.5L14.18 -42.01L13.28 -42.37L12.33 -42.51L11.39 -42.38L10.54 -42.03L9.81 -41.51L9.14 -40.9L8.51 -40.23L7.9 -39.56L7.29 -38.92L6.68 -38.38L6.08 -37.97Z" fill="#000"/></g>
<g transform="translate(263.2 1119) rotate(180) scale(1.05 0.947)"><path d="M8.9 -23.6L4.9 -2" stroke="#000" stroke-width="4" stroke-linecap="round" fill="none"/><path d="M0.6 -18C1.2 -23 3 -28 5.6 -28C7.6 -28 8.6 -26 9.2 -23.5" stroke="#000" stroke-width="1.4" stroke-linecap="round" fill="none"/><path d="M9.6 -20.5C11.5 -25 14.5 -27.8 18 -27.7C20.5 -27.6 22.3 -27 22.8 -25" stroke="#000" stroke-width="1.5" stroke-linecap="round" fill="none"/><circle cx="20.8" cy="-23.9" r="3.1" fill="#000"/><path d="M6.52 -37.18L7.23 -37.64L7.94 -38.18L8.65 -38.76L9.35 -39.32L10.03 -39.81L10.68 -40.17L11.26 -40.37L11.72 -40.41L12.1 -40.33L12.46 -40.15L12.88 -39.87L13.38 -39.45L13.94 -38.92L14.57 -38.32L15.26 -37.69L16.01 -37.1L16.82 -36.59L17.72 -36.23L18.67 -36.09L19.61 -36.22L20.46 -36.57L21.19 -37.09L21.86 -37.7L22.49 -38.37L23.1 -39.04L23.71 -39.68L24.32 -40.22L24.92 -40.63L24.48 -41.42L23.77 -40.96L23.06 -40.42L22.35 -39.84L21.65 -39.28L20.97 -38.79L20.32 -38.43L19.74 -38.23L19.28 -38.19L18.9 -38.27L18.54 -38.45L18.12 -38.73L17.62 -39.15L17.06 -39.68L16.43 -40.28L15.74 -40.91L14.99 -41.5L14.18 -42.01L13.28 -42.37L12.33 -42.51L11.39 -42.38L10.54 -42.03L9.81 -41.51L9.14 -40.9L8.51 -40.23L7.9 -39.56L7.29 -38.92L6.68 -38.38L6.08 -37.97Z" fill="#000"/></g>
<g transform="translate(287.9 1119) rotate(180)"><path d="M19.5 -43.5Q-10.73 -14.5 19.5 14.5Q-5.46 -14.5 19.5 -43.5Z" fill="#000" stroke="#000" stroke-width="0.9" stroke-linejoin="round"/></g>
<g transform="translate(231.8 1119) rotate(180)"><path d="M0 -43.5Q30.23 -14.5 0 14.5Q24.96 -14.5 0 -43.5Z" fill="#000" stroke="#000" stroke-width="0.9" stroke-linejoin="round"/></g>
<text transform="translate(389.2 1110.3) rotate(180) scale(1.3 1)" font-family="'Liberation Serif', serif" font-size="40">edge</text>
<text transform="translate(419.3 1119) rotate(180) scale(1.13 1)" font-family="'Liberation Serif', serif" font-size="58" font-style="italic" stroke="#000" stroke-width="0.7">ρ</text>
<g transform="translate(415.6 1119) rotate(180) scale(1.0 0.947)"><path d="M6.52 -37.18L7.23 -37.64L7.94 -38.18L8.65 -38.76L9.35 -39.32L10.03 -39.81L10.68 -40.17L11.26 -40.37L11.72 -40.41L12.1 -40.33L12.46 -40.15L12.88 -39.87L13.38 -39.45L13.94 -38.92L14.57 -38.32L15.26 -37.69L16.01 -37.1L16.82 -36.59L17.72 -36.23L18.67 -36.09L19.61 -36.22L20.46 -36.57L21.19 -37.09L21.86 -37.7L22.49 -38.37L23.1 -39.04L23.71 -39.68L24.32 -40.22L24.92 -40.63L24.48 -41.42L23.77 -40.96L23.06 -40.42L22.35 -39.84L21.65 -39.28L20.97 -38.79L20.32 -38.43L19.74 -38.23L19.28 -38.19L18.9 -38.27L18.54 -38.45L18.12 -38.73L17.62 -39.15L17.06 -39.68L16.43 -40.28L15.74 -40.91L14.99 -41.5L14.18 -42.01L13.28 -42.37L12.33 -42.51L11.39 -42.38L10.54 -42.03L9.81 -41.51L9.14 -40.9L8.51 -40.23L7.9 -39.56L7.29 -38.92L6.68 -38.38L6.08 -37.97Z" fill="#000"/></g>
<g transform="translate(201.6 943.2) rotate(-119)"><g transform="translate(0 -1)"><path d="M25 -17.5C13.75 -17.5 11.25 0 5.5 0C0.5 0 0 -5.25 0 -8.75C0 -12.25 0.5 -17.5 5.5 -17.5C11.25 -17.5 13.75 0 25 0" stroke="#000" stroke-width="1.6" stroke-linecap="round" fill="none"/></g><g transform="translate(37.5 0) scale(0.72)"><path d="M8.9 -23.6L4.9 -2" stroke="#000" stroke-width="3.3" stroke-linecap="round" fill="none"/><path d="M0.6 -18C1.2 -23 3 -28 5.6 -28C7.6 -28 8.6 -26 9.2 -23.5" stroke="#000" stroke-width="1.4" stroke-linecap="round" fill="none"/><path d="M9.6 -20.5C11.5 -25 14.5 -27.8 18 -27.7C20.5 -27.6 22.3 -27 22.8 -25" stroke="#000" stroke-width="1.5" stroke-linecap="round" fill="none"/><circle cx="21.34" cy="-24.62" r="2.2" fill="#000"/><path d="M7.49 -34.74L8.19 -35.2L8.89 -35.74L9.59 -36.32L10.29 -36.89L10.97 -37.39L11.62 -37.77L12.2 -38L12.7 -38.06L13.12 -37.99L13.52 -37.82L13.98 -37.53L14.5 -37.1L15.08 -36.57L15.71 -35.97L16.39 -35.34L17.13 -34.75L17.92 -34.25L18.78 -33.9L19.69 -33.76L20.58 -33.86L21.4 -34.2L22.13 -34.69L22.79 -35.29L23.43 -35.94L24.05 -36.6L24.66 -37.23L25.28 -37.78L25.89 -38.19L25.51 -38.86L24.81 -38.4L24.11 -37.86L23.41 -37.28L22.71 -36.71L22.03 -36.21L21.38 -35.83L20.8 -35.6L20.3 -35.54L19.88 -35.61L19.48 -35.78L19.02 -36.07L18.5 -36.5L17.92 -37.03L17.29 -37.63L16.61 -38.26L15.87 -38.85L15.08 -39.35L14.22 -39.7L13.31 -39.84L12.42 -39.74L11.6 -39.4L10.87 -38.91L10.21 -38.31L9.57 -37.66L8.95 -37L8.34 -36.37L7.72 -35.82L7.11 -35.41Z" fill="#000"/></g></g>
<g transform="translate(309.8 931.4) rotate(-149)"><g transform="translate(0 -1)"><path d="M25 -17.5C13.75 -17.5 11.25 0 5.5 0C0.5 0 0 -5.25 0 -8.75C0 -12.25 0.5 -17.5 5.5 -17.5C11.25 -17.5 13.75 0 25 0" stroke="#000" stroke-width="1.6" stroke-linecap="round" fill="none"/></g><g transform="translate(37.5 0) scale(0.72)"><path d="M8.9 -23.6L4.9 -2" stroke="#000" stroke-width="3.3" stroke-linecap="round" fill="none"/><path d="M0.6 -18C1.2 -23 3 -28 5.6 -28C7.6 -28 8.6 -26 9.2 -23.5" stroke="#000" stroke-width="1.4" stroke-linecap="round" fill="none"/><path d="M9.6 -20.5C11.5 -25 14.5 -27.8 18 -27.7C20.5 -27.6 22.3 -27 22.8 -25" stroke="#000" stroke-width="1.5" stroke-linecap="round" fill="none"/><circle cx="21.34" cy="-24.62" r="2.2" fill="#000"/><path d="M7.49 -34.74L8.19 -35.2L8.89 -35.74L9.59 -36.32L10.29 -36.89L10.97 -37.39L11.62 -37.77L12.2 -38L12.7 -38.06L13.12 -37.99L13.52 -37.82L13.98 -37.53L14.5 -37.1L15.08 -36.57L15.71 -35.97L16.39 -35.34L17.13 -34.75L17.92 -34.25L18.78 -33.9L19.69 -33.76L20.58 -33.86L21.4 -34.2L22.13 -34.69L22.79 -35.29L23.43 -35.94L24.05 -36.6L24.66 -37.23L25.28 -37.78L25.89 -38.19L25.51 -38.86L24.81 -38.4L24.11 -37.86L23.41 -37.28L22.71 -36.71L22.03 -36.21L21.38 -35.83L20.8 -35.6L20.3 -35.54L19.88 -35.61L19.48 -35.78L19.02 -36.07L18.5 -36.5L17.92 -37.03L17.29 -37.63L16.61 -38.26L15.87 -38.85L15.08 -39.35L14.22 -39.7L13.31 -39.84L12.42 -39.74L11.6 -39.4L10.87 -38.91L10.21 -38.31L9.57 -37.66L8.95 -37L8.34 -36.37L7.72 -35.82L7.11 -35.41Z" fill="#000"/></g><text x="58.5" y="-12" font-family="'Liberation Serif', serif" font-size="26.6" stroke="#000" stroke-width="0.35">2</text></g>
<g transform="translate(527.8 926.5) rotate(-158)"><g transform="translate(0 -1)"><path d="M25 -17.5C13.75 -17.5 11.25 0 5.5 0C0.5 0 0 -5.25 0 -8.75C0 -12.25 0.5 -17.5 5.5 -17.5C11.25 -17.5 13.75 0 25 0" stroke="#000" stroke-width="1.6" stroke-linecap="round" fill="none"/></g><g transform="translate(37.5 0) scale(0.72)"><path d="M8.9 -23.6L4.9 -2" stroke="#000" stroke-width="3.3" stroke-linecap="round" fill="none"/><path d="M0.6 -18C1.2 -23 3 -28 5.6 -28C7.6 -28 8.6 -26 9.2 -23.5" stroke="#000" stroke-width="1.4" stroke-linecap="round" fill="none"/><path d="M9.6 -20.5C11.5 -25 14.5 -27.8 18 -27.7C20.5 -27.6 22.3 -27 22.8 -25" stroke="#000" stroke-width="1.5" stroke-linecap="round" fill="none"/><circle cx="21.34" cy="-24.62" r="2.2" fill="#000"/><path d="M7.49 -34.74L8.19 -35.2L8.89 -35.74L9.59 -36.32L10.29 -36.89L10.97 -37.39L11.62 -37.77L12.2 -38L12.7 -38.06L13.12 -37.99L13.52 -37.82L13.98 -37.53L14.5 -37.1L15.08 -36.57L15.71 -35.97L16.39 -35.34L17.13 -34.75L17.92 -34.25L18.78 -33.9L19.69 -33.76L20.58 -33.86L21.4 -34.2L22.13 -34.69L22.79 -35.29L23.43 -35.94L24.05 -36.6L24.66 -37.23L25.28 -37.78L25.89 -38.19L25.51 -38.86L24.81 -38.4L24.11 -37.86L23.41 -37.28L22.71 -36.71L22.03 -36.21L21.38 -35.83L20.8 -35.6L20.3 -35.54L19.88 -35.61L19.48 -35.78L19.02 -36.07L18.5 -36.5L17.92 -37.03L17.29 -37.63L16.61 -38.26L15.87 -38.85L15.08 -39.35L14.22 -39.7L13.31 -39.84L12.42 -39.74L11.6 -39.4L10.87 -38.91L10.21 -38.31L9.57 -37.66L8.95 -37L8.34 -36.37L7.72 -35.82L7.11 -35.41Z" fill="#000"/></g><text x="58.5" y="-12" font-family="'Liberation Serif', serif" font-size="26.6" stroke="#000" stroke-width="0.35">4</text></g>
<g transform="translate(206.2 126.7) rotate(-122)"><path d="M-19.4 0H19.4" stroke="#000" stroke-width="1.3"/><text x="-2" y="21.8" text-anchor="middle" font-family="'Liberation Serif', serif" font-size="25" font-style="italic" stroke="#000" stroke-width="0.3">π</text><g transform="translate(6.2 -4.6) scale(0.5)"><path d="M8.9 -23.6L4.9 -2" stroke="#000" stroke-width="3.6" stroke-linecap="round" fill="none"/><path d="M0.6 -18C1.2 -23 3 -28 5.6 -28C7.6 -28 8.6 -26 9.2 -23.5" stroke="#000" stroke-width="1.4" stroke-linecap="round" fill="none"/><path d="M9.6 -20.5C11.5 -25 14.5 -27.8 18 -27.7C20.5 -27.6 22.3 -27 22.8 -25" stroke="#000" stroke-width="1.5" stroke-linecap="round" fill="none"/><circle cx="21.28" cy="-24.54" r="2.3" fill="#000"/><path d="M6.5 -34.42L7.21 -34.88L7.91 -35.42L8.61 -36L9.31 -36.56L9.99 -37.06L10.64 -37.44L11.22 -37.66L11.71 -37.71L12.11 -37.64L12.5 -37.46L12.94 -37.17L13.46 -36.75L14.03 -36.22L14.66 -35.62L15.35 -34.99L16.09 -34.4L16.89 -33.9L17.76 -33.54L18.68 -33.4L19.59 -33.51L20.42 -33.86L21.15 -34.36L21.82 -34.96L22.45 -35.62L23.07 -36.28L23.68 -36.92L24.29 -37.46L24.9 -37.87L24.5 -38.58L23.79 -38.12L23.09 -37.58L22.39 -37L21.69 -36.44L21.01 -35.94L20.36 -35.56L19.78 -35.34L19.29 -35.29L18.89 -35.36L18.5 -35.54L18.06 -35.83L17.54 -36.25L16.97 -36.78L16.34 -37.38L15.65 -38.01L14.91 -38.6L14.11 -39.1L13.24 -39.46L12.32 -39.6L11.41 -39.49L10.58 -39.14L9.85 -38.64L9.18 -38.04L8.55 -37.38L7.93 -36.72L7.32 -36.08L6.71 -35.54L6.1 -35.13Z" fill="#000"/></g><path d="M-16.4 -13.0L-13.8 -15.4" stroke="#000" stroke-width="1.1" fill="none"/><path d="M-13.6 -15.6L-9.0 -3.0" stroke="#000" stroke-width="2.1" stroke-linecap="butt" fill="none"/><path d="M-8.8 -2.6L6.9 -28.4H20.8" stroke="#000" stroke-width="1.2" fill="none" stroke-linejoin="miter"/></g>
</svg></body></html>
